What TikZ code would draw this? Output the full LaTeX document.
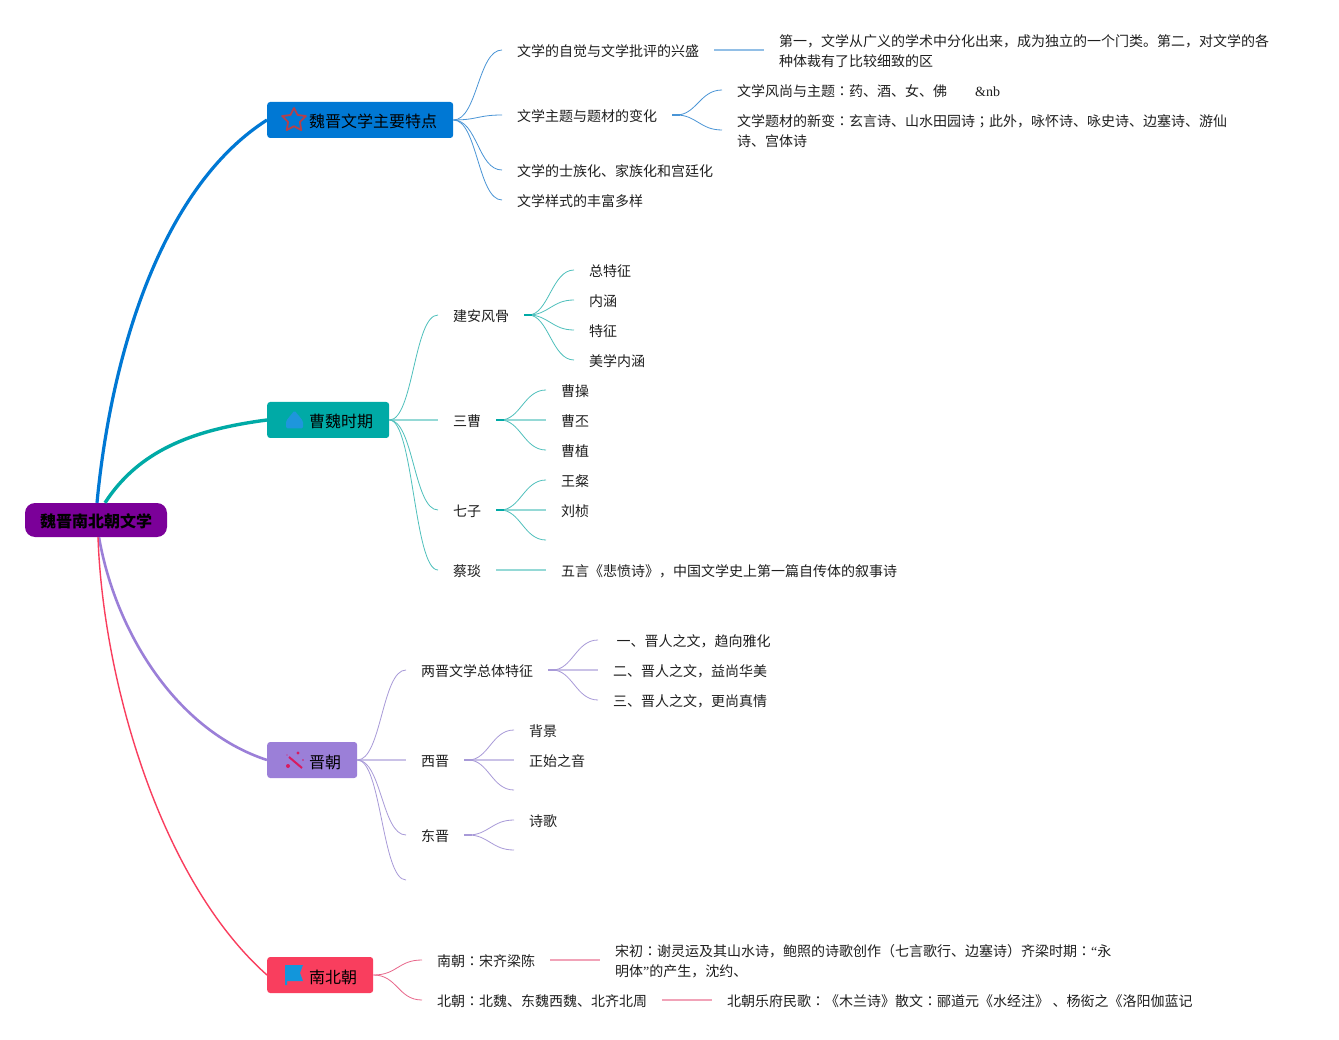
\documentclass[tikz,border=0pt]{standalone}
\usepackage{fontspec}
\setmainfont{Noto Sans CJK SC}
\newfontfamily\latinserif{Liberation Serif}
\newfontfamily\jpf{Noto Sans CJK JP}
\newcommand\cln{{\jpf ：}}
\newcommand\scn{{\jpf ；}}
\newcommand\wup{\rule{0pt}{15pt}}
\definecolor{cblue}{HTML}{0078D4}
\definecolor{cteal}{HTML}{00AAA6}
\definecolor{cpurp}{HTML}{9B7FD8}
\definecolor{cred}{HTML}{F93E5E}
\definecolor{croot}{HTML}{7B0099}
\definecolor{lblue}{HTML}{4A95D6}
\definecolor{lteal}{HTML}{4FC0BC}
\definecolor{lpurp}{HTML}{A89AD8}
\definecolor{lred}{HTML}{E8668A}
\definecolor{icstar}{HTML}{B5404A}
\definecolor{icdrop}{HTML}{1E96DC}
\definecolor{icwand}{HTML}{D81B60}
\definecolor{icflag}{HTML}{1296DB}
\newcommand\cvlink[3]{\draw[#1] (#2.east) .. controls +(24,0) and +(-24,0) .. (#3.west);}
\newcommand\sublink[3]{\draw[#1] ([xshift=4pt]#2.east) .. controls +(20,0) and +(-22,0) .. (#3.west);}
\newcommand\stub[2]{\draw[#1,line width=1.4pt] (#2.east) -- +(8,0);}
\newcommand\stlink[3]{\draw[#1,opacity=.6] (#2.east) -- (#3.west);}
\tikzset{
  x=1pt,y=-1pt,
  leaf/.style={anchor=west,inner xsep=15pt,inner ysep=0pt,text height=13.4pt,text depth=0pt,font=\fontsize{14}{20}\selectfont,text=black!88},
  wrapleaf/.style={anchor=west,inner xsep=15pt,inner ysep=0pt,align=left,font=\fontsize{14}{20}\selectfont,text=black!88},
  topic/.style={anchor=west,rounded corners=3pt,inner xsep=16pt,inner ysep=0pt,minimum height=36pt,text height=16pt,text depth=0pt,font=\fontsize{16}{20}\selectfont,text=black},
  rootbox/.style={rounded corners=10pt,fill=croot,minimum width=142pt,minimum height=34pt,inner sep=0pt,text height=14pt,text depth=0pt,font=\fontsize{16}{20}\selectfont\bfseries,text=black},
  lb/.style={lblue,line width=.8pt}, lt/.style={lteal,line width=.8pt}, lp/.style={lpurp,line width=.8pt}, lr/.style={lred,line width=.8pt},
  sl/.style={line width=1.5pt}
}
\begin{document}
\begin{tikzpicture}
\fill[white] (0,0) rectangle (1339,1040);
\useasboundingbox (0,0) rectangle (1339,1040);
% root and topics
\node[rootbox] (root) at (96,520) {魏晋南北朝文学};
\node[topic,fill=cblue] (t1) at (267,120) {\hspace*{26pt}魏晋文学主要特点};
\node[topic,fill=cteal] (t2) at (267,420) {\hspace*{26pt}曹魏时期};
\node[topic,fill=cpurp] (t3) at (267,760) {\hspace*{26pt}晋朝};
\node[topic,fill=cred] (t4) at (267,975) {\hspace*{26pt}南北朝};
\draw[cblue,line width=3.2pt] ([xshift=1pt]root.north) .. controls (112,345) and (165,185) .. (t1.west);
\draw[cteal,line width=3.4pt] ([xshift=9pt]root.north) .. controls (138,452) and (190,430) .. (t2.west);
\draw[cpurp,line width=2.6pt] ([xshift=3pt]root.south) .. controls (115,630) and (175,730) .. (t3.west);
\draw[cred,line width=1.4pt] ([xshift=2pt]root.south) .. controls (103,680) and (160,880) .. (t4.west);
% icons
\draw[icstar,line width=1.8pt,line join=round] (294,108) -- (297.6,115) -- (305.9,116.1) -- (299.9,121.9) -- (301.3,130.1) -- (294,126.2) -- (286.7,130.1) -- (288.1,121.9) -- (282.1,116.1) -- (290.4,115) -- cycle;
\fill[icdrop,rounded corners=1.5pt] (294.5,410.5) -- (303,421) -- (303,428.5) -- (286,428.5) -- (286,421) -- cycle;
\draw[icwand,line width=2pt] (289,757) -- (302,768);
\fill[icwand] (298,753) circle (1.6) (288,766) circle (2) (303,760) circle (.9) (287,755) circle (.7);
\fill[icflag] (285,965) -- (303,965) -- (300,973) -- (303,981) -- (287,981) -- (287,985) -- (285,985) -- cycle;
% branch 1
\node[leaf] (a1) at (502,50) {文学的自觉与文学批评的兴盛};
\node[leaf] (a2) at (502,115) {文学主题与题材的变化};
\node[leaf] (a3) at (502,170) {文学的士族化、家族化和宫廷化};
\node[leaf] (a4) at (502,200) {文学样式的丰富多样};
\node[wrapleaf] (a1x) at (764,50) {\wup 第一，文学从广义的学术中分化出来，成为独立的一个门类。第二，对文学的各\\种体裁有了比较细致的区};
\node[leaf] (a21) at (722,90) {文学风尚与主题\cln 药、酒、女、佛\hspace{28pt}{\latinserif\&nb}};
\node[wrapleaf] (a22) at (722,130) {\wup 文学题材的新变\cln 玄言诗、山水田园诗\scn 此外，咏怀诗、咏史诗、边塞诗、游仙\\诗、宫体诗};
\cvlink{lb}{t1}{a1}\cvlink{lb}{t1}{a2}\cvlink{lb}{t1}{a3}\cvlink{lb}{t1}{a4}
\stlink{lb,sl}{a1}{a1x}
\sublink{lb}{a2}{a21}\sublink{lb}{a2}{a22}\stub{lblue}{a2}
% branch 2
\node[leaf] (b1) at (438,315) {建安风骨};
\node[leaf] (b2) at (438,420) {三曹};
\node[leaf] (b3) at (438,510) {七子};
\node[leaf] (b4) at (438,570) {蔡琰};
\node[leaf] (b11) at (574,270) {总特征};
\node[leaf] (b12) at (574,300) {内涵};
\node[leaf] (b13) at (574,330) {特征};
\node[leaf] (b14) at (574,360) {美学内涵};
\node[leaf] (b21) at (546,390) {曹操};
\node[leaf] (b22) at (546,420) {曹丕};
\node[leaf] (b23) at (546,450) {曹植};
\node[leaf] (b31) at (546,480) {王粲};
\node[leaf] (b32) at (546,510) {刘桢};
\coordinate (b33) at (546,540);
\node[leaf] (b41) at (546,570) {五言《悲愤诗》，中国文学史上第一篇自传体的叙事诗};
\cvlink{lt}{t2}{b1}\stlink{lt,sl}{t2}{b2}\cvlink{lt}{t2}{b3}\cvlink{lt}{t2}{b4}
\sublink{lt}{b1}{b11}\sublink{lt}{b1}{b12}\sublink{lt}{b1}{b13}\sublink{lt}{b1}{b14}\stub{cteal}{b1}
\sublink{lt}{b2}{b21}\stlink{lt,sl}{b2}{b22}\sublink{lt}{b2}{b23}\stub{cteal}{b2}
\sublink{lt}{b3}{b31}\stlink{lt,sl}{b3}{b32}\sublink{lt}{b3}{b33}\stub{cteal}{b3}
\stlink{lt,sl}{b4}{b41}
% branch 3
\node[leaf] (c1) at (406,670) {两晋文学总体特征};
\node[leaf] (c2) at (406,760) {西晋};
\node[leaf] (c3) at (406,835) {东晋};
\coordinate (c4) at (406,880);
\node[leaf] (c11) at (598,640) {\hspace*{3.5pt}一、晋人之文，趋向雅化};
\node[leaf] (c12) at (598,670) {二、晋人之文，益尚华美};
\node[leaf] (c13) at (598,700) {三、晋人之文，更尚真情};
\node[leaf] (c21) at (514,730) {背景};
\node[leaf] (c22) at (514,760) {正始之音};
\coordinate (c23) at (514,790);
\node[leaf] (c31) at (514,820) {诗歌};
\coordinate (c32) at (514,850);
\cvlink{lp}{t3}{c1}\stlink{lp,sl}{t3}{c2}\cvlink{lp}{t3}{c3}\cvlink{lp}{t3}{c4}
\sublink{lp}{c1}{c11}\stlink{lp,sl}{c1}{c12}\sublink{lp}{c1}{c13}\stub{lpurp}{c1}
\sublink{lp}{c2}{c21}\stlink{lp,sl}{c2}{c22}\sublink{lp}{c2}{c23}\stub{lpurp}{c2}
\sublink{lp}{c3}{c31}\sublink{lp}{c3}{c32}\stub{lpurp}{c3}
% branch 4
\node[leaf] (d1) at (422,960) {南朝\cln 宋齐梁陈};
\node[leaf] (d2) at (422,1000) {北朝\cln 北魏、东魏西魏、北齐北周};
\node[wrapleaf] (d1x) at (600,960) {\wup 宋初\cln 谢灵运及其山水诗，鲍照的诗歌创作（七言歌行、边塞诗）齐梁时期\cln{\latinserif “}永\\明体{\latinserif ”}的产生，沈约、};
\node[leaf] (d2x) at (712,1000) {北朝乐府民歌\cln《木兰诗》散文\cln 郦道元《水经注》\hspace{3.5pt}、杨衒之《洛阳伽蓝记};
\cvlink{lr}{t4}{d1}\cvlink{lr}{t4}{d2}
\stlink{lr,sl}{d1}{d1x}\stlink{lr,sl}{d2}{d2x}
\end{tikzpicture}
\end{document}
